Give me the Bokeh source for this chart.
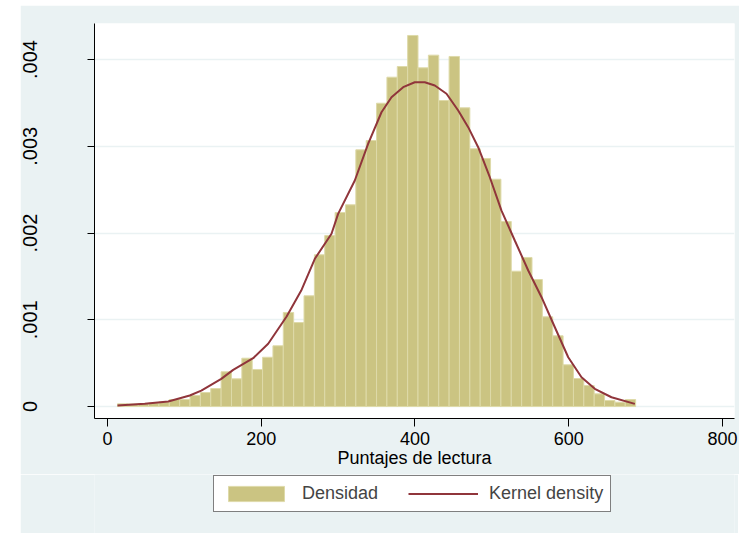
from bokeh.plotting import figure
from bokeh.models import Legend, LegendItem, FixedTicker, ColumnDataSource
from bokeh.layouts import column
from bokeh.embed import file_html
from bokeh.resources import INLINE

# ---- data ----
bin_start = 13.0
bin_width = 13.48
bar_density = [
    0.000031, 0.000029, 0.000035, 0.000040, 0.000052, 0.000081, 0.000081, 0.000127, 0.000161, 0.000207,
    0.000400, 0.000319, 0.000557, 0.000427, 0.000568, 0.000700, 0.001084, 0.000968, 0.001276, 0.001749,
    0.001971, 0.002236, 0.002325, 0.002959, 0.003066, 0.003496, 0.003796, 0.003919, 0.004277, 0.003904,
    0.004050, 0.003527, 0.004035, 0.003443, 0.002971, 0.002859, 0.002620, 0.002133, 0.001560, 0.001718,
    0.001464, 0.001034, 0.000815, 0.000481, 0.000323, 0.000242, 0.000146, 0.000069, 0.000050, 0.000081,
]
kde_x = [13, 48.5, 79, 107, 122, 148, 163.5, 189.5, 209, 233, 252, 269.7, 291.4, 300, 321.7, 339,
         356.4, 369.4, 384.6, 399.7, 412.7, 425.8, 441, 456.2, 469.2, 482.2, 497.3, 512.5, 529.8,
         547.3, 564.6, 581.9, 599.3, 616.6, 633.9, 655.6, 686]
kde_y = [0.0000115, 0.000031, 0.000058, 0.000127, 0.000184, 0.000319, 0.000423, 0.000557, 0.000723,
         0.001037, 0.001337, 0.001703, 0.001991, 0.002221, 0.002605, 0.003028, 0.003392, 0.003565,
         0.003681, 0.003738, 0.003738, 0.003700, 0.003605, 0.003412, 0.003220, 0.002989, 0.002643,
         0.002259, 0.001914, 0.001568, 0.001260, 0.000914, 0.000568, 0.000338, 0.000204, 0.000107,
         0.000031]
x_ticks = [0, 200, 400, 600, 800]
y_ticks = [0, 0.001, 0.002, 0.003, 0.004]
y_tick_labels = ["0", ".001", ".002", ".003", ".004"]
x_title = "Puntajes de lectura"
legend_labels = ["Densidad", "Kernel density"]

FONT = "Liberation Sans"
BG = "#EAF2F3"
BAR_FILL = "#CBC482"
BAR_LINE = "#DEDAA9"
KDE_COLOR = "#90353B"

lefts = [bin_start + i * bin_width for i in range(len(bar_density))]
rights = [l + bin_width for l in lefts]
src = ColumnDataSource(dict(left=lefts, right=rights, top=bar_density, bottom=[0] * len(bar_density)))

p = figure(
    frame_width=640, frame_height=395,
    x_range=(-16.9, 815.6), y_range=(-0.000138, 0.004415),
    output_backend="svg", toolbar_location=None,
    min_border_left=73, min_border_top=18, min_border_right=5, min_border_bottom=56,
)
p.border_fill_color = BG
p.background_fill_color = "white"
p.outline_line_color = None

bars = p.quad(left="left", right="right", top="top", bottom="bottom", source=src,
              fill_color=BAR_FILL, line_color=BAR_LINE, line_width=1)
line = p.line(kde_x, kde_y, line_color=KDE_COLOR, line_width=2)

# axes
p.xaxis.ticker = FixedTicker(ticks=x_ticks)
p.yaxis.ticker = FixedTicker(ticks=y_ticks)
p.yaxis.major_label_overrides = {t: l for t, l in zip(y_ticks, y_tick_labels)}
p.xaxis.axis_label = x_title
for ax in (p.xaxis, p.yaxis):
    ax.axis_line_color = "black"
    ax.axis_line_width = 1
    ax.major_tick_line_color = "black"
    ax.major_tick_in = 0
    ax.minor_tick_line_color = None
    ax.major_label_text_font = FONT
    ax.major_label_text_color = "black"
    ax.axis_label_text_font = FONT
    ax.axis_label_text_font_style = "normal"
    ax.axis_label_text_color = "black"
p.xaxis.major_tick_out = 8
p.xaxis.major_label_text_font_size = "18px"
p.xaxis.major_label_standoff = 5
p.xaxis.axis_label_text_font_size = "18px"
p.xaxis.axis_label_standoff = 0
p.yaxis.major_tick_out = 7
p.yaxis.major_label_text_font_size = "20px"
p.yaxis.major_label_orientation = "vertical"
p.yaxis.major_label_standoff = 50

p.xgrid.grid_line_color = None
p.ygrid.grid_line_color = BG
p.ygrid.grid_line_width = 1.5

# legend strip (separate figure so the legend is not clipped by the main frame)
pl = figure(
    frame_width=640, frame_height=59, x_range=(0, 1), y_range=(0, 1),
    output_backend="svg", toolbar_location=None,
    x_axis_type=None, y_axis_type=None,
    min_border_left=73, min_border_right=5, min_border_top=0, min_border_bottom=0,
)
pl.border_fill_color = BG
pl.background_fill_color = BG
pl.outline_line_color = None
pl.xgrid.grid_line_color = None
pl.ygrid.grid_line_color = None
nan = float("nan")
proxy = ColumnDataSource(dict(left=[nan], right=[nan], top=[nan], bottom=[nan], x=[nan], y=[nan]))
kb = pl.quad(left="left", right="right", top="top", bottom="bottom", source=proxy,
             fill_color=BAR_FILL, line_color=BAR_LINE, line_width=1)
kl = pl.line("x", "y", source=proxy, line_color=KDE_COLOR, line_width=2)

legend = Legend(
    items=[LegendItem(label=legend_labels[0], renderers=[kb]),
           LegendItem(label=legend_labels[1], renderers=[kl])],
    orientation="horizontal", location=(119, 21),
    glyph_width=70, glyph_height=19, label_standoff=11, spacing=30, padding=7, margin=0,
    border_line_color="black", border_line_width=1, background_fill_color="white",
    background_fill_alpha=1, label_text_font=FONT, label_text_font_size="18px",
)
pl.add_layout(legend, "center")

layout = column(p, pl, spacing=0)
layout.margin = (5, 0, 0, 20)

open("out.html", "w").write(file_html(layout, INLINE))
